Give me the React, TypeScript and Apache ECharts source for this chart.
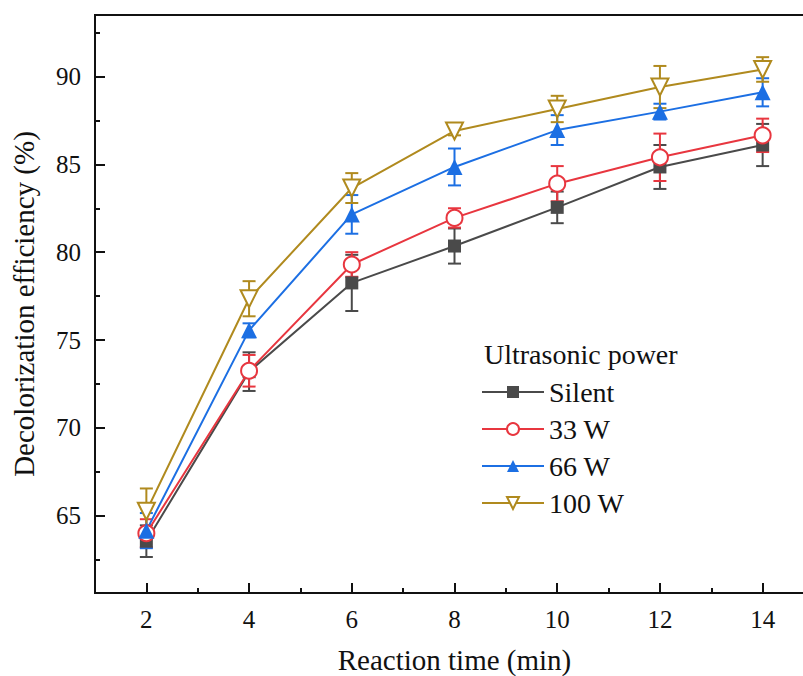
import React, { useEffect, useRef } from "react";
import * as echarts from "echarts";

const times = [2, 4, 6, 8, 10, 12, 14];
const silent = [63.55, 73.2, 78.25, 80.35, 82.55, 84.85, 86.1];
const silentErr = [0.9, 1.1, 1.6, 1.0, 0.9, 1.25, 1.2];
const w33 = [64.0, 73.25, 79.3, 81.95, 83.9, 85.4, 86.65];
const w33Err = [0.8, 0.9, 0.7, 0.55, 1.0, 1.35, 0.95];
const w66 = [64.15, 75.55, 82.15, 84.85, 86.95, 88.0, 89.1];
const w66Err = [1.0, 0.4, 1.1, 1.05, 0.85, 0.45, 0.8];
const w100 = [65.25, 77.35, 83.65, 86.9, 88.15, 89.4, 90.4];
const w100Err = [1.3, 1.0, 0.85, 0.25, 0.75, 1.2, 0.7];

const seriesNames = ["Silent", "33 W", "66 W", "100 W"];
const xMajor = [2, 4, 6, 8, 10, 12, 14];
const xMinor = [3, 5, 7, 9, 11, 13];
const yMajor = [65, 70, 75, 80, 85, 90];
const yMinor = [62.5, 67.5, 72.5, 77.5, 82.5, 87.5, 92.5];

const FONT = "Liberation Serif, Times New Roman, serif";

export default function App() {
  const ref = useRef<HTMLDivElement>(null);
  useEffect(() => {
    if (!ref.current) return;
    const chart = echarts.init(ref.current, undefined, { renderer: "svg" });
    const colors = ["#4a4a4a", "#e8363f", "#1c6fe3", "#b08a1e"];
    const vals = [silent, w33, w66, w100];
    const errs = [silentErr, w33Err, w66Err, w100Err];
    const symbols = ["rect", "circle", "triangle", "path://M0,0 L10,0 L5,9 Z"];
    const sizes = [13, 16, 16, 17];
    const filled = [true, false, true, false];

    const lineSeries = seriesNames.map((name, k) => ({
      name,
      type: "line",
      xAxisIndex: 0,
      yAxisIndex: 0,
      data: times.map((t, i) => [t, vals[k][i]]),
      symbol: symbols[k],
      symbolSize: sizes[k],
      showAllSymbol: true,
      z: 3,
      lineStyle: { color: colors[k], width: 2 },
      itemStyle: filled[k]
        ? { color: colors[k], borderColor: colors[k], borderWidth: 0 }
        : { color: "#ffffff", borderColor: colors[k], borderWidth: 2 },
    }));

    const errSeries = seriesNames.map((name, k) => ({
      name: name + " err",
      type: "custom",
      xAxisIndex: 0,
      yAxisIndex: 0,
      z: 2,
      data: times.map((t, i) => [t, vals[k][i], errs[k][i]]),
      encode: { x: 0, y: 1 },
      renderItem: (params: any, api: any) => {
        const x = api.value(0);
        const y = api.value(1);
        const e = api.value(2);
        const top = api.coord([x, y + e]);
        const bot = api.coord([x, y - e]);
        const hw = 6.5;
        const style = { stroke: colors[k], lineWidth: 2 };
        return {
          type: "group",
          children: [
            { type: "line", shape: { x1: top[0], y1: top[1], x2: bot[0], y2: bot[1] }, style },
            { type: "line", shape: { x1: top[0] - hw, y1: top[1], x2: top[0] + hw, y2: top[1] }, style },
            { type: "line", shape: { x1: bot[0] - hw, y1: bot[1], x2: bot[0] + hw, y2: bot[1] }, style },
          ],
        };
      },
    }));

    const option: any = {
      animation: false,
      backgroundColor: "#ffffff",
      textStyle: { fontFamily: FONT },
      grid: {
        left: 95,
        right: 16,
        top: 15,
        bottom: 83,
        outerBoundsMode: "none",
        containLabel: false,
        show: true,
        borderColor: "#111",
        borderWidth: 2,
        backgroundColor: "transparent",
      },
      xAxis: [
        {
          type: "value",
          min: 1,
          max: 15,
          position: "bottom",
          name: "Reaction time (min)",
          nameLocation: "middle",
          nameGap: 52,
          nameTextStyle: { fontFamily: FONT, fontSize: 29, color: "#111" },
          axisLine: { show: true, lineStyle: { color: "#111", width: 2 } },
          axisTick: { show: true, inside: true, length: 10, lineStyle: { color: "#111", width: 2 }, customValues: xMajor },
          axisLabel: { show: true, margin: 14, fontFamily: FONT, fontSize: 25, color: "#111", customValues: xMajor },
          splitLine: { show: false },
        },
        {
          type: "value",
          min: 1,
          max: 15,
          position: "bottom",
          axisLine: { show: false },
          axisTick: { show: true, inside: true, length: 5, lineStyle: { color: "#111", width: 2 }, customValues: xMinor },
          axisLabel: { show: false },
          splitLine: { show: false },
        },
      ],
      yAxis: [
        {
          type: "value",
          min: 60.6,
          max: 93.5,
          position: "left",
          name: "Decolorization efficiency (%)",
          nameLocation: "middle",
          nameGap: 57,
          nameTextStyle: { fontFamily: FONT, fontSize: 29, color: "#111" },
          axisLine: { show: true, lineStyle: { color: "#111", width: 2 } },
          axisTick: { show: true, inside: true, length: 10, lineStyle: { color: "#111", width: 2 }, customValues: yMajor },
          axisLabel: { show: true, margin: 14, fontFamily: FONT, fontSize: 25, color: "#111", customValues: yMajor },
          splitLine: { show: false },
        },
        {
          type: "value",
          min: 60.6,
          max: 93.5,
          position: "left",
          axisLine: { show: false },
          axisTick: { show: true, inside: true, length: 5, lineStyle: { color: "#111", width: 2 }, customValues: yMinor },
          axisLabel: { show: false },
          splitLine: { show: false },
        },
      ],
      legend: {
        data: seriesNames,
        orient: "vertical",
        left: 481,
        top: 378,
        padding: 0,
        itemWidth: 62,
        itemHeight: 15,
        itemGap: 9,
        textStyle: { fontFamily: FONT, fontSize: 28, color: "#111" },
      },
      graphic: [
        {
          type: "text",
          left: 484,
          top: 340,
          style: { text: "Ultrasonic power", fontFamily: FONT, fontSize: 28, fill: "#111" },
        },
      ],
      series: [...errSeries, ...lineSeries],
    };
    chart.setOption(option);
    return () => chart.dispose();
  }, []);

  return (
    <div style={{ position: "fixed", left: 0, top: 0, width: 803, height: 676, overflow: "hidden", background: "#fff" }}>
      <div ref={ref} style={{ width: 830, height: 676 }} />
    </div>
  );
}
